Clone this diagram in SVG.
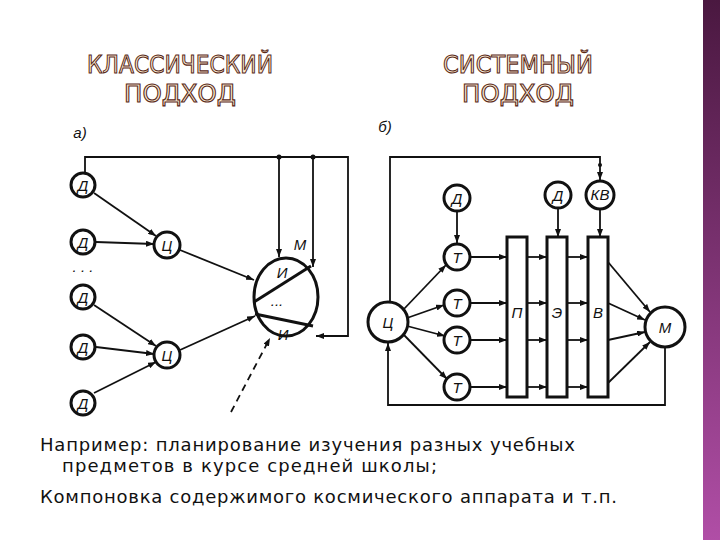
<svg xmlns="http://www.w3.org/2000/svg" width="720" height="540" viewBox="0 0 720 540">
<defs>
<linearGradient id="bar" x1="0" y1="0" x2="0" y2="1"><stop offset="0" stop-color="#4a1840"/><stop offset="1" stop-color="#b04ea6"/></linearGradient>
<marker id="a" markerWidth="8" markerHeight="6" refX="8" refY="3" orient="auto" markerUnits="userSpaceOnUse"><path d="M0,0 L8,3 L0,6 z" fill="#111"/></marker>
<style>
.t{font-family:"DejaVu Sans",sans-serif;font-size:25px;fill:#fdeed6;stroke:#5a2a18;stroke-width:1.1;text-anchor:middle}
.n{fill:#fff;stroke:#111;stroke-width:3}
.l{font-family:"Liberation Sans",sans-serif;font-style:italic;font-size:15px;fill:#111;text-anchor:middle}
.c line,.c path{stroke:#111;stroke-width:1.8;fill:none}
.ar{marker-end:url(#a)}
.p{font-family:"DejaVu Sans",sans-serif;font-size:18px;fill:#111}
</style>
</defs>
<rect width="720" height="540" fill="#fff"/>
<rect x="703" y="0" width="17" height="540" fill="url(#bar)"/>
<text class="t" x="180" y="73" textLength="186" lengthAdjust="spacingAndGlyphs">КЛАССИЧЕСКИЙ</text>
<text class="t" x="180" y="102" textLength="112" lengthAdjust="spacingAndGlyphs">ПОДХОД</text>
<text class="t" x="518" y="73" textLength="150" lengthAdjust="spacingAndGlyphs">СИСТЕМНЫЙ</text>
<text class="t" x="518" y="102" textLength="112" lengthAdjust="spacingAndGlyphs">ПОДХОД</text>
<text class="l" x="80" y="138" font-size="18">а)</text>
<text class="l" x="385" y="132" font-size="18">б)</text>
<g class="c" id="connectors">
<path d="M85,173 V157 H348 V336 H316" class="ar"/>
<line x1="279" y1="157" x2="279" y2="257" class="ar"/>
<line x1="313" y1="157" x2="313" y2="267" class="ar"/>
<line x1="94" y1="193" x2="156" y2="236" class="ar"/>
<line x1="96" y1="242" x2="154" y2="244" class="ar"/>
<line x1="180" y1="250" x2="254" y2="280" class="ar"/>
<line x1="94" y1="305" x2="156" y2="346" class="ar"/>
<line x1="96" y1="347" x2="154" y2="354" class="ar"/>
<line x1="94" y1="393" x2="156" y2="362" class="ar"/>
<line x1="180" y1="350" x2="255" y2="316" class="ar"/>
<line x1="231" y1="412" x2="270" y2="338" stroke-dasharray="7,5" class="ar"/>
<path d="M390,302 V157 H600 V180" class="ar"/>
<path d="M665,347 V405 H388 V343" class="ar"/>
<line x1="457" y1="211" x2="457" y2="243" class="ar"/>
<line x1="558" y1="208" x2="558" y2="237" class="ar"/>
<line x1="600" y1="209" x2="600" y2="237" class="ar"/>
<line x1="403" y1="310" x2="446" y2="265" class="ar"/>
<line x1="407" y1="318" x2="444" y2="305" class="ar"/>
<line x1="407" y1="326" x2="445" y2="336" class="ar"/>
<line x1="403" y1="334" x2="447" y2="379" class="ar"/>
<line x1="470" y1="257" x2="507" y2="257" class="ar"/>
<line x1="470" y1="303" x2="507" y2="303" class="ar"/>
<line x1="470" y1="340" x2="507" y2="340" class="ar"/>
<line x1="470" y1="387" x2="507" y2="387" class="ar"/>
<line x1="527" y1="257" x2="547" y2="257" class="ar"/>
<line x1="527" y1="303" x2="547" y2="303" class="ar"/>
<line x1="527" y1="340" x2="547" y2="340" class="ar"/>
<line x1="527" y1="387" x2="547" y2="387" class="ar"/>
<line x1="567" y1="257" x2="588" y2="257" class="ar"/>
<line x1="567" y1="303" x2="588" y2="303" class="ar"/>
<line x1="567" y1="340" x2="588" y2="340" class="ar"/>
<line x1="567" y1="387" x2="588" y2="387" class="ar"/>
<line x1="608" y1="262" x2="650" y2="312" class="ar"/>
<line x1="608" y1="303" x2="645" y2="320" class="ar"/>
<line x1="608" y1="340" x2="645" y2="332" class="ar"/>
<line x1="608" y1="383" x2="650" y2="342" class="ar"/>
<circle cx="279" cy="157" r="2.5" fill="#111"/>
<circle cx="313" cy="157" r="2.5" fill="#111"/>
<circle cx="600" cy="165" r="2" fill="#111"/>
</g>
<g id="d1"><circle class="n" cx="83" cy="185" r="12"/><text class="l" x="83" y="191">Д</text></g>
<g id="d2"><circle class="n" cx="83" cy="242" r="12"/><text class="l" x="83" y="248">Д</text></g>
<text class="l" x="83" y="272" font-size="16">. . .</text>
<g id="d3"><circle class="n" cx="83" cy="297" r="12"/><text class="l" x="83" y="303">Д</text></g>
<g id="d4"><circle class="n" cx="83" cy="347" r="12"/><text class="l" x="83" y="353">Д</text></g>
<g id="d5"><circle class="n" cx="83" cy="403" r="12"/><text class="l" x="83" y="409">Д</text></g>
<g id="c1"><circle class="n" cx="167" cy="245" r="13"/><text class="l" x="167" y="251">Ц</text></g>
<g id="c2"><circle class="n" cx="167" cy="355" r="13"/><text class="l" x="167" y="361">Ц</text></g>
<g id="m1"><ellipse class="n" cx="286" cy="297" rx="32" ry="39"/>
<line x1="254" y1="302" x2="311" y2="266" stroke="#111" stroke-width="3"/>
<line x1="255" y1="314" x2="313" y2="326" stroke="#111" stroke-width="3"/>
<text class="l" x="282" y="278">И</text><text class="l" x="277" y="306">...</text><text class="l" x="283" y="340">И</text>
<text class="l" x="300" y="250">М</text></g>
<g id="c3"><circle class="n" cx="388" cy="322" r="20"/><text class="l" x="388" y="328" font-size="17">Ц</text></g>
<g id="d6"><circle class="n" cx="457" cy="198" r="13"/><text class="l" x="457" y="204">Д</text></g>
<g id="t1"><circle class="n" cx="457" cy="257" r="13"/><text class="l" x="457" y="263">Т</text></g>
<g id="t2"><circle class="n" cx="457" cy="303" r="13"/><text class="l" x="457" y="309">Т</text></g>
<g id="t3"><circle class="n" cx="457" cy="340" r="13"/><text class="l" x="457" y="346">Т</text></g>
<g id="t4"><circle class="n" cx="457" cy="387" r="13"/><text class="l" x="457" y="393">Т</text></g>
<g id="bp"><rect class="n" x="507" y="237" width="20" height="160"/><text class="l" x="517" y="318">П</text></g>
<g id="be"><rect class="n" x="547" y="237" width="20" height="160"/><text class="l" x="557" y="318">Э</text></g>
<g id="bv"><rect class="n" x="588" y="237" width="20" height="160"/><text class="l" x="598" y="318">В</text></g>
<g id="d7"><circle class="n" cx="558" cy="195" r="13"/><text class="l" x="558" y="201">Д</text></g>
<g id="kv"><circle class="n" cx="600" cy="195" r="14"/><text class="l" x="600" y="200" font-size="13">КВ</text></g>
<g id="m2"><circle class="n" cx="665" cy="327" r="20"/><text class="l" x="665" y="333" font-size="17">М</text></g>
<text class="p" x="40" y="451" textLength="535">Например: планирование изучения разных учебных</text>
<text class="p" x="62" y="472" textLength="375">предметов в курсе средней школы;</text>
<text class="p" x="40" y="503" textLength="577">Компоновка содержимого космического аппарата и т.п.</text>
</svg>
